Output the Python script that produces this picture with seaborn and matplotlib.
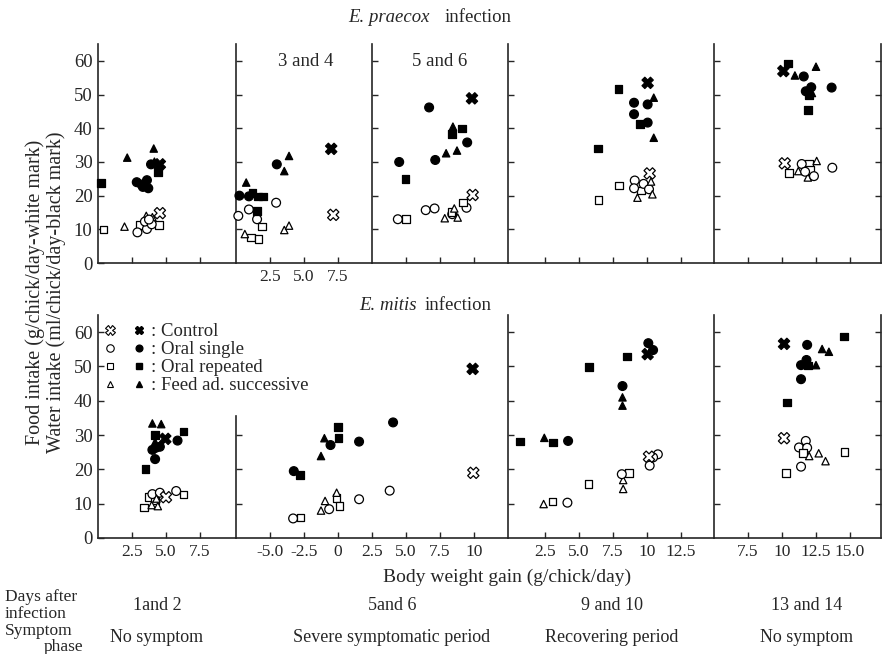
"""
Food / water intake vs body weight gain, E. praecox and E. mitis infection.
"""

import pandas as pd
import matplotlib.pyplot as plt
import seaborn as sns
from matplotlib.lines import Line2D
from matplotlib.legend_handler import HandlerTuple

GROUPS = ["Control", "Oral single", "Oral repeated", "Feed ad. successive"]
MARKERS = {"Control": "X", "Oral single": "o", "Oral repeated": "s",
           "Feed ad. successive": "^"}
SIZES = {"Control": 66, "Oral single": 40, "Oral repeated": 30,
         "Feed ad. successive": 28}

# ─────────────────────────────────────────
# Podaci: (grupa, prirast, unos)  food = bijeli znak, water = crni znak
# ─────────────────────────────────────────

# E. praecox, dani 1-2
PR12_FOOD = [
    ("Oral repeated", 0.4, 10.0), ("Oral repeated", 3.05, 11.3), ("Oral repeated", 4.5, 11.3),
    ("Feed ad. successive", 1.95, 10.8), ("Feed ad. successive", 3.55, 14.0),
    ("Feed ad. successive", 4.0, 13.6),
    ("Oral single", 2.9, 9.1), ("Oral single", 3.6, 10.1), ("Oral single", 3.45, 12.3),
    ("Oral single", 3.95, 11.5), ("Oral single", 3.75, 12.9),
    ("Control", 4.55, 14.8),
]
PR12_WATER = [
    ("Oral repeated", 0.2, 23.7), ("Oral repeated", 4.4, 27.1),
    ("Feed ad. successive", 2.15, 31.3), ("Feed ad. successive", 4.1, 34.0),
    ("Feed ad. successive", 4.15, 30.1),
    ("Oral single", 2.85, 24.0), ("Oral single", 3.2, 23.3), ("Oral single", 3.6, 24.6),
    ("Oral single", 3.7, 22.2), ("Oral single", 3.3, 22.6), ("Oral single", 3.9, 29.3),
    ("Control", 4.55, 29.3),
]

# E. praecox, dani 3-4
PR34_FOOD = [
    ("Oral single", 0.17, 14.0), ("Oral single", 0.95, 15.9), ("Oral single", 1.55, 13.0),
    ("Oral single", 2.95, 17.9),
    ("Oral repeated", 1.9, 10.8), ("Oral repeated", 1.1, 7.6), ("Oral repeated", 1.65, 7.2),
    ("Feed ad. successive", 0.65, 8.6), ("Feed ad. successive", 3.55, 9.8),
    ("Feed ad. successive", 3.9, 11.1),
    ("Control", 7.15, 14.3),
]
PR34_WATER = [
    ("Oral single", 0.25, 20.0), ("Oral single", 0.95, 19.8), ("Oral single", 3.0, 29.3),
    ("Oral repeated", 1.2, 20.8), ("Oral repeated", 1.6, 19.8), ("Oral repeated", 2.0, 19.7),
    ("Oral repeated", 1.55, 15.5),
    ("Feed ad. successive", 0.75, 23.9), ("Feed ad. successive", 3.9, 31.8),
    ("Feed ad. successive", 3.55, 27.3),
    ("Control", 7.0, 33.9),
]

# E. praecox, dani 5-6
PR56_FOOD = [
    ("Oral single", 4.4, 13.0), ("Oral single", 6.45, 15.7), ("Oral single", 7.1, 16.2),
    ("Oral single", 9.45, 16.4), ("Oral single", 8.4, 14.5),
    ("Oral repeated", 5.0, 13.0), ("Oral repeated", 9.2, 18.0), ("Oral repeated", 8.35, 15.2),
    ("Feed ad. successive", 7.85, 13.3), ("Feed ad. successive", 8.55, 16.2),
    ("Feed ad. successive", 8.8, 13.5),
    ("Control", 9.9, 20.2),
]
PR56_WATER = [
    ("Oral single", 4.5, 30.0), ("Oral single", 6.7, 46.2), ("Oral single", 7.15, 30.6),
    ("Oral single", 9.5, 35.8),
    ("Oral repeated", 4.95, 24.9), ("Oral repeated", 9.1, 40.0), ("Oral repeated", 8.4, 38.3),
    ("Feed ad. successive", 7.95, 32.6), ("Feed ad. successive", 8.75, 33.4),
    ("Feed ad. successive", 8.45, 40.5),
    ("Control", 9.85, 48.9),
]

# E. praecox, dani 9-10
PR910_FOOD = [
    ("Oral repeated", 6.45, 18.7), ("Oral repeated", 7.95, 23.0), ("Oral repeated", 9.55, 21.5),
    ("Oral single", 9.1, 24.5), ("Oral single", 9.05, 22.2), ("Oral single", 9.75, 23.5),
    ("Oral single", 10.15, 21.9),
    ("Feed ad. successive", 9.3, 19.4), ("Feed ad. successive", 10.4, 20.4),
    ("Feed ad. successive", 10.3, 24.2),
    ("Control", 10.2, 26.6),
]
PR910_WATER = [
    ("Oral repeated", 6.4, 34.0), ("Oral repeated", 7.9, 51.7), ("Oral repeated", 9.5, 41.3),
    ("Oral single", 9.05, 47.6), ("Oral single", 10.05, 47.1), ("Oral single", 9.05, 44.2),
    ("Oral single", 10.05, 41.7),
    ("Feed ad. successive", 10.5, 49.1), ("Feed ad. successive", 10.5, 37.2),
    ("Control", 10.05, 53.5),
]

# E. praecox, dani 13-14
PR1314_FOOD = [
    ("Control", 10.2, 29.6),
    ("Oral repeated", 10.5, 26.8), ("Oral repeated", 12.0, 29.6), ("Oral repeated", 12.05, 27.6),
    ("Feed ad. successive", 11.2, 27.3), ("Feed ad. successive", 12.55, 30.3),
    ("Feed ad. successive", 11.9, 25.4),
    ("Oral single", 11.45, 29.4), ("Oral single", 11.7, 27.1), ("Oral single", 12.35, 25.8),
    ("Oral single", 13.7, 28.3),
]
PR1314_WATER = [
    ("Control", 10.1, 57.0),
    ("Oral repeated", 10.45, 59.3), ("Oral repeated", 11.9, 45.4), ("Oral repeated", 12.0, 49.8),
    ("Feed ad. successive", 10.95, 55.7), ("Feed ad. successive", 12.5, 58.3),
    ("Feed ad. successive", 12.2, 50.5),
    ("Oral single", 11.6, 55.4), ("Oral single", 11.75, 51.0), ("Oral single", 12.15, 52.2),
    ("Oral single", 13.65, 52.1),
]

# E. mitis, dani 1-2
MI12_FOOD = [
    ("Oral repeated", 3.4, 8.9), ("Oral repeated", 3.7, 11.9), ("Oral repeated", 4.2, 10.9),
    ("Oral repeated", 6.3, 12.7),
    ("Oral single", 4.0, 12.8), ("Oral single", 4.55, 13.2), ("Oral single", 5.75, 13.7),
    ("Feed ad. successive", 3.95, 9.6), ("Feed ad. successive", 4.4, 9.3),
    ("Feed ad. successive", 4.3, 11.5),
    ("Control", 5.0, 11.9),
]
MI12_WATER = [
    ("Feed ad. successive", 4.0, 33.4), ("Feed ad. successive", 4.65, 33.2),
    ("Feed ad. successive", 4.2, 28.0),
    ("Oral repeated", 4.2, 30.0), ("Oral repeated", 3.5, 20.1), ("Oral repeated", 6.3, 31.0),
    ("Oral single", 4.0, 25.7), ("Oral single", 4.55, 26.6), ("Oral single", 4.25, 26.3),
    ("Oral single", 4.2, 23.0), ("Oral single", 5.85, 28.4),
    ("Control", 4.95, 28.9),
]

# E. mitis, dani 5-6
MI56_FOOD = [
    ("Oral single", -3.3, 5.7), ("Oral single", -0.65, 8.4), ("Oral single", 1.55, 11.3),
    ("Oral single", 3.8, 13.8),
    ("Oral repeated", -2.75, 6.0), ("Oral repeated", -0.1, 11.6), ("Oral repeated", 0.1, 9.3),
    ("Feed ad. successive", -1.25, 8.0), ("Feed ad. successive", -0.95, 10.8),
    ("Feed ad. successive", -0.1, 13.2),
    ("Control", 9.95, 19.0),
]
MI56_WATER = [
    ("Oral single", -3.25, 19.5), ("Oral single", -0.55, 27.1), ("Oral single", 1.55, 28.1),
    ("Oral single", 4.05, 33.7),
    ("Oral repeated", -2.8, 18.4), ("Oral repeated", 0.0, 32.3), ("Oral repeated", 0.05, 29.1),
    ("Feed ad. successive", -1.25, 23.9), ("Feed ad. successive", -1.0, 29.1),
    ("Control", 9.9, 49.3),
]

# E. mitis, dani 9-10
MI910_FOOD = [
    ("Feed ad. successive", 2.4, 9.9), ("Feed ad. successive", 8.25, 16.9),
    ("Feed ad. successive", 8.25, 14.3),
    ("Oral repeated", 3.05, 10.6), ("Oral repeated", 5.7, 15.7), ("Oral repeated", 8.7, 19.0),
    ("Oral single", 4.15, 10.3), ("Oral single", 8.15, 18.6), ("Oral single", 10.2, 21.1),
    ("Oral single", 10.8, 24.4), ("Oral single", 10.45, 23.5),
    ("Control", 10.15, 23.7),
]
MI910_WATER = [
    ("Oral repeated", 0.65, 28.1), ("Oral repeated", 3.1, 27.8), ("Oral repeated", 5.75, 49.8),
    ("Oral repeated", 8.55, 52.9),
    ("Feed ad. successive", 2.45, 29.2), ("Feed ad. successive", 8.2, 41.0),
    ("Feed ad. successive", 8.2, 38.6),
    ("Oral single", 4.2, 28.3), ("Oral single", 8.2, 44.3), ("Oral single", 10.1, 56.8),
    ("Oral single", 10.45, 54.8),
    ("Control", 10.05, 53.6),
]

# E. mitis, dani 13-14
MI1314_FOOD = [
    ("Control", 10.15, 29.1),
    ("Oral single", 11.75, 28.3), ("Oral single", 11.25, 26.4), ("Oral single", 11.85, 26.3),
    ("Oral single", 11.4, 20.8),
    ("Oral repeated", 11.55, 24.7), ("Oral repeated", 14.6, 25.0), ("Oral repeated", 10.3, 18.9),
    ("Feed ad. successive", 12.0, 23.9), ("Feed ad. successive", 12.7, 24.7),
    ("Feed ad. successive", 13.2, 22.4),
]
MI1314_WATER = [
    ("Control", 10.15, 56.6),
    ("Oral single", 11.85, 56.3), ("Oral single", 11.4, 50.4), ("Oral single", 11.8, 51.9),
    ("Oral single", 11.4, 46.3),
    ("Oral repeated", 14.55, 58.7), ("Oral repeated", 11.9, 50.3), ("Oral repeated", 10.35, 39.5),
    ("Feed ad. successive", 12.95, 55.1), ("Feed ad. successive", 13.45, 54.3),
    ("Feed ad. successive", 12.5, 50.4),
]

PANEL_DATA = {
    "pr12": (PR12_FOOD, PR12_WATER), "pr34": (PR34_FOOD, PR34_WATER),
    "pr56": (PR56_FOOD, PR56_WATER), "pr910": (PR910_FOOD, PR910_WATER),
    "pr1314": (PR1314_FOOD, PR1314_WATER),
    "mi12": (MI12_FOOD, MI12_WATER), "mi56": (MI56_FOOD, MI56_WATER),
    "mi910": (MI910_FOOD, MI910_WATER), "mi1314": (MI1314_FOOD, MI1314_WATER),
}

rows = []
for key, (food, water) in PANEL_DATA.items():
    for kind, pts in (("food", food), ("water", water)):
        for g, x, y in pts:
            rows.append({"panel": key, "kind": kind, "group": g, "gain": x, "value": y})
df = pd.DataFrame(rows)

# ─────────────────────────────────────────
# Raspored panela (pikseli)
# ─────────────────────────────────────────
W, H = 883, 654
ROW_GEOM = {0: (263, 3.367), 1: (538, 3.43)}

# key, red, x0, x1, xlim, xticks, xticklabels
LAYOUT = [
    ("pr12", 0, 98, 236, (0, 10.15), [2.5, 5, 7.5], None),
    ("pr34", 0, 236, 372, (0, 10), [2.5, 5, 7.5], ["2.5", "5.0", "7.5"]),
    ("pr56", 0, 372, 508, (2.5, 12.5), [5, 7.5, 10], None),
    ("pr910", 0, 508, 714, (-0.22, 14.93), [2.5, 5, 7.5, 10, 12.5], None),
    ("pr1314", 0, 714, 881, (5, 17.28), [7.5, 10, 12.5, 15], None),
    ("mi12", 1, 98, 236, (0, 10.15), [2.5, 5, 7.5], ["2.5", "5.0", "7.5"]),
    ("mi56", 1, 236, 508, (-7.5, 12.5), [-5, -2.5, 0, 2.5, 5, 7.5, 10],
     ["-5.0", "-2.5", "0", "2.5", "5.0", "7.5", "10"]),
    ("mi910", 1, 508, 714, (-0.22, 14.93), [2.5, 5, 7.5, 10, 12.5],
     ["2.5", "5.0", "7.5", "10", "12.5"]),
    ("mi1314", 1, 714, 881, (5, 17.28), [7.5, 10, 12.5, 15],
     ["7.5", "10", "12.5", "15.0"]),
]

sns.set_style("ticks")
plt.rcParams["font.family"] = ["Liberation Serif", "DejaVu Serif"]

fig = plt.figure(figsize=(8.83, 6.54), dpi=100)

for key, row, x0, x1, xlim, xticks, xlabels in LAYOUT:
    base, ppu = ROW_GEOM[row]
    top = base - 65 * ppu
    ax = fig.add_axes([x0 / W, 1 - base / H, (x1 - x0) / W, (base - top) / H])
    ax.patch.set_alpha(0)

    sub = df[df["panel"] == key]
    for kind, face in (("food", "white"), ("water", "black")):
        part = sub[sub["kind"] == kind]
        sns.scatterplot(data=part, x="gain", y="value", style="group", size="group",
                        markers=MARKERS, sizes=SIZES, style_order=GROUPS,
                        size_order=GROUPS, color=face, edgecolor="black",
                        linewidth=0.9, legend=False, clip_on=False, zorder=3, ax=ax)

    ax.set_xlim(*xlim)
    ax.set_ylim(0, 65)
    ax.set_xlabel("")
    ax.set_ylabel("")
    ax.spines["top"].set_visible(False)
    last = key.endswith("1314")
    ax.spines["right"].set_visible(last)
    for s in ax.spines.values():
        s.set_linewidth(1.2)

    ax.set_xticks(xticks)
    ax.set_xticklabels(xlabels if xlabels else [""] * len(xticks), fontsize=12.5)

    first = key.endswith("12")
    if first:
        ax.set_yticks(range(0, 61, 10))
        ax.set_yticklabels([str(v) for v in range(0, 61, 10)], fontsize=13.5)
    elif key == "mi56":
        ax.set_yticks([10, 20, 30])
        ax.set_yticklabels([])
        ax.spines["left"].set_bounds(0, 35.5)
    else:
        ax.set_yticks(range(10, 61, 10))
        ax.set_yticklabels([])
    ax.tick_params(direction="in", length=4.5, width=1.0, pad=4, right=last)

# ─────────────────────────────────────────
# Tekstovi
# ─────────────────────────────────────────
def ftext(x, y, s, **kw):
    fig.text(x / W, 1 - y / H, s, va="center", **kw)

ftext(430, 17, "E. praecox", ha="right", fontsize=13.5, style="italic")
ftext(445, 17, "infection", ha="left", fontsize=13.5)
ftext(417, 305, "E. mitis", ha="right", fontsize=13.5, style="italic")
ftext(425, 305, "infection", ha="left", fontsize=13.5)
ftext(306, 62, "3 and 4", ha="center", fontsize=13.5)
ftext(440, 62, "5 and 6", ha="center", fontsize=13.5)

ftext(35, 292, "Food intake (g/chick/day-white mark)", ha="center", rotation=90,
      fontsize=14.5)
ftext(56, 292, "Water intake (ml/chick/day-black mark)", ha="center", rotation=90,
      fontsize=14.5)
ftext(507, 577, "Body weight gain (g/chick/day)", ha="center", fontsize=14)

ftext(5, 597, "Days after", ha="left", fontsize=12.5)
ftext(5, 614, "infection", ha="left", fontsize=12.5)
ftext(5, 631, "Symptom", ha="left", fontsize=12.5)
ftext(44, 647, "phase", ha="left", fontsize=12.5)

DAYS = ["1and 2", "5and 6", "9 and 10", "13 and 14"]
PHASES = ["No symptom", "Severe symptomatic period", "Recovering period", "No symptom"]
COL_X = [157, 392, 612, 807]
for cx, d, p in zip(COL_X, DAYS, PHASES):
    ftext(cx, 606, d, ha="center", fontsize=13)
    ftext(cx, 638, p, ha="center", fontsize=13)

# legenda
handles = []
for g in GROUPS:
    ms = SIZES[g] ** 0.5 * (0.8 if g == "Control" else 0.85)
    op = Line2D([], [], ls="", marker=MARKERS[g], ms=ms, mfc="white", mec="black", mew=0.8)
    fl = Line2D([], [], ls="", marker=MARKERS[g], ms=ms * 0.9, mfc="black", mec="black")
    handles.append((op, fl))
fig.legend(handles, [": " + g for g in GROUPS], loc="upper left",
           bbox_to_anchor=(104 / W, 1 - 323 / H), frameon=False,
           handler_map={tuple: HandlerTuple(ndivide=None, pad=0.9)},
           handlelength=2.2, handletextpad=0.3, labelspacing=0.05,
           borderpad=0, borderaxespad=0, fontsize=13.5)

fig.savefig("out.png", dpi=100)
plt.close(fig)
